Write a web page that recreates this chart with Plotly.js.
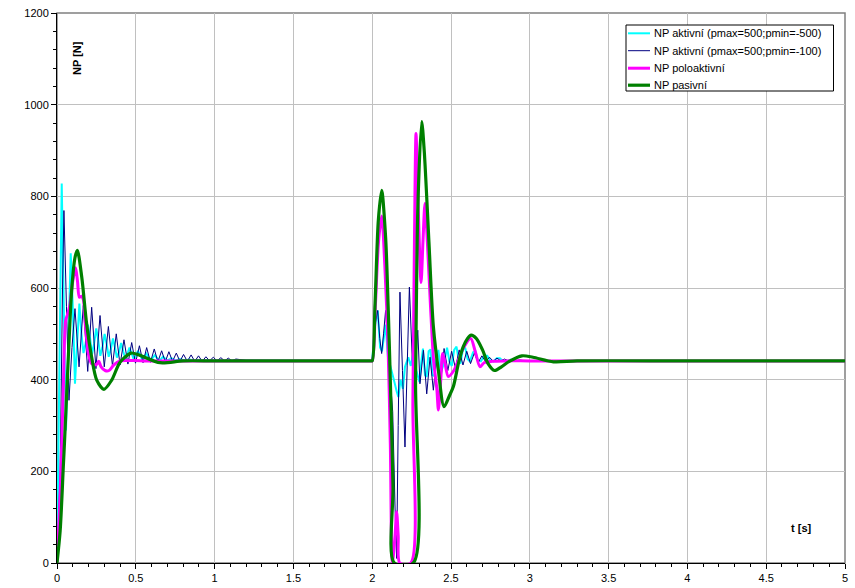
<!DOCTYPE html>
<html>
<head>
<meta charset="utf-8">
<script src="https://cdn.plot.ly/plotly-3.0.1.min.js"></script>
<style>html,body{margin:0;padding:0;background:#fff;}#chart{width:855px;height:588px;}</style>
</head>
<body>
<div id="chart"></div>
<script>
// Series names
const seriesNames = [
  "NP aktivní (pmax=500;pmin=-500)",
  "NP aktivní (pmax=500;pmin=-100)",
  "NP poloaktivní",
  "NP pasivní"
];

// NP aktivní (pmax=500;pmin=-500)  [cyan]
const tCyan = [0,0.01,0.02,0.030,0.043,0.057,0.072,0.087,0.10,0.114,0.128,0.142,0.155,0.168,0.182,0.196,0.21,0.222,0.235,0.249,0.262,0.275,0.288,0.302,0.315,0.328,0.341,0.355,0.368,0.38,0.393,0.407,0.42,0.433,0.446,0.46,0.473,0.486,0.5,0.513,0.527,0.54,0.553,0.567,0.58,0.593,0.606,0.62,0.633,0.646,0.66,0.673,0.686,0.70,0.713,0.726,0.74,0.753,0.78,0.81,0.84,0.87,0.9,1.0,2.0,
  2.018,2.035,2.05,2.062,2.075,2.085,2.10,2.12,2.141,2.155,2.166,2.18,2.195,2.208,2.229,2.245,2.26,2.28,2.30,2.312,2.322,2.335,2.345,2.358,2.37,2.382,2.395,2.41,2.42,2.435,2.455,2.475,2.49,2.505,2.52,2.535,2.55,2.56,2.575,2.59,2.605,2.62,2.64,2.655,2.67,2.69,2.71,2.73,2.75,2.77,2.79,2.81,2.83,2.86,2.88,2.91,3.0,5.0];
const vCyan = [0,250,560,828,560,289,480,676,560,391,480,566,500,458,480,520,490,455,478,512,485,452,470,500,478,450,465,490,470,448,460,480,462,446,456,470,458,445,452,463,454,444,449,457,450,443,447,453,448,442,445,450,446,442,444,447,444,442,445,442,444,442,443,442,441,
  520,551,470,462,500,520,450,420,395,375,362,400,380,428,449,430,457,420,395,440,468,410,406,462,466,410,408,450,465,415,435,470,440,430,465,472,440,435,465,470,445,440,460,462,442,440,452,452,441,440,447,447,441,441,444,441,441,441];

// NP aktivní (pmax=500;pmin=-100)  [navy]
const tNavy = [0,0.02,0.035,0.044,0.06,0.076,0.095,0.114,0.14,0.167,0.195,0.220,0.247,0.273,0.30,0.326,0.352,0.376,0.40,0.425,0.45,0.474,0.498,0.523,0.546,0.569,0.593,0.617,0.64,0.664,0.687,0.710,0.733,0.757,0.78,0.803,0.827,0.851,0.874,0.898,0.921,0.945,0.968,0.992,1.015,1.04,1.063,1.087,1.11,1.135,1.2,2.0,
  2.018,2.035,2.048,2.060,2.072,2.085,2.10,2.115,2.13,2.145,2.155,2.165,2.176,2.192,2.208,2.222,2.236,2.25,2.262,2.275,2.289,2.303,2.325,2.346,2.367,2.388,2.41,2.43,2.456,2.48,2.504,2.528,2.552,2.576,2.600,2.624,2.648,2.672,2.696,2.72,2.744,2.768,2.792,2.816,2.84,2.864,2.888,2.912,2.936,2.97,3.1,5.0];
const vNavy = [0,200,600,769,560,355,470,555,428,562,418,558,424,540,428,516,430,500,432,487,434,481,436,474,437,470,438,467,439,463,439,461,440,458,440,455,440,454,440,452,440,450,441,449,441,448,441,447,441,445,442,441,
  520,551,490,457,500,551,470,390,330,120,10,300,591,420,253,430,602,480,380,430,508,391,464,369,449,377,455,380,468,420,462,425,465,432,462,435,458,437,452,439,449,440,447,441,445,441,444,441,443,441,441,441];

// NP poloaktivní  [magenta]
const tMagenta = [0,0.02,0.04,0.055,0.065,0.08,0.10,0.118,0.13,0.142,0.155,0.167,0.18,0.20,0.22,0.25,0.265,0.28,0.305,0.33,0.36,0.40,0.45,0.55,1.0,1.5,1.99,2.0,
  2.02,2.04,2.06,2.08,2.10,2.115,2.128,2.145,2.155,2.165,2.175,2.245,2.258,2.268,2.278,2.29,2.31,2.322,2.335,2.35,2.37,2.39,2.41,2.42,2.435,2.447,2.46,2.483,2.518,2.546,2.58,2.625,2.655,2.684,2.71,2.76,2.85,3.0,4.0,5.0];
const vMagenta = [0,150,380,530,540,560,615,644,615,580,582,575,520,455,435,433,440,428,420,420,432,441,442,441,441,441,441,441,
  560,700,757,650,480,260,0,60,112,60,0,0,350,700,937,800,612,700,785,700,560,440,380,334,400,457,440,407,420,442,470,490,460,428,437,440,441,441,441,441];

// NP pasivní  [green]
const tGreen = [0,0.02,0.04,0.051,0.072,0.093,0.114,0.129,0.157,0.188,0.22,0.252,0.298,0.347,0.40,0.47,0.527,0.654,0.8,1.0,1.5,1.99,2.0,
  2.018,2.039,2.06,2.085,2.102,2.119,2.132,2.14,2.261,2.275,2.29,2.314,2.33,2.36,2.388,2.42,2.456,2.49,2.515,2.55,2.578,2.605,2.628,2.66,2.70,2.735,2.776,2.82,2.87,2.95,3.02,3.15,3.3,4.0,5.0];
const vGreen = [0,70,210,289,450,595,666,682,624,522,449,399,379,399,438,458,453,437,441,441,441,441,441,
  566,748,813,711,551,348,166,0,0,400,780,963,900,700,516,420,341,365,385,440,472,490,497,490,465,435,420,428,440,452,449,439,441,441,441];

// Axis ticks
const xTicks = [0,0.5,1,1.5,2,2.5,3,3.5,4,4.5,5];
const xTickText = ["0","0.5","1","1.5","2","2.5","3","3.5","4","4.5","5"];
const yTicks = [0,200,400,600,800,1000,1200];
const yTickText = ["0","200","400","600","800","1000","1200"];

const colors = ["#00FFFF","#000080","#FF00FF","#008000"];
const widths = [2,1,3,3.2];
const shapesLine = ['linear','linear','spline','spline'];

const xs = [tCyan,tNavy,tMagenta,tGreen];
const ys = [vCyan,vNavy,vMagenta,vGreen];
const traces = xs.map((x,i)=>({
  x:x, y:ys[i], type:'scatter', mode:'lines', name:seriesNames[i], cliponaxis:true,
  line:{color:colors[i], width:widths[i], shape:shapesLine[i], smoothing:0.8}, showlegend:false, hoverinfo:'skip'
}));

const font = "Liberation Sans, Arial, sans-serif";
const PX = v => (v-57)/788;
const PY = v => (563-v)/550;

// Manual legend
const legY = [33.3,50.7,68.2,85.2];
const shapes = [
  {type:'rect', xref:'paper', yref:'paper', x0:0, x1:1, y0:0, y1:1, line:{color:'#808080', width:1.5}, layer:'below'},
  {type:'rect', xref:'paper', yref:'paper', x0:PX(626), x1:PX(833.5), y0:PY(91), y1:PY(25), line:{color:'#000', width:1}, fillcolor:'#fff', layer:'above'}
];
const annotations = [
  {text:'<b>NP [N]</b>', xref:'paper', yref:'paper', x:PX(68.5), y:PY(39.5), textangle:-90, showarrow:false, font:{family:font, size:11, color:'#000'}},
  {text:'<b>t [s]</b>', xref:'paper', yref:'paper', x:PX(814), y:PY(536), showarrow:false, font:{family:font, size:11, color:'#000'}}
];
seriesNames.forEach((n,i)=>{
  shapes.push({type:'line', xref:'paper', yref:'paper', x0:PX(628), x1:PX(650), y0:PY(legY[i]), y1:PY(legY[i]), line:{color:colors[i], width:widths[i]}, layer:'above'});
  annotations.push({text:n, xref:'paper', yref:'paper', x:PX(651.5), y:PY(legY[i]), xanchor:'left', yanchor:'middle', showarrow:false, font:{family:font, size:11, color:'#000'}});
});

const layout = {
  width:855, height:588,
  margin:{l:57, r:10, t:13, b:25},
  paper_bgcolor:'#fff', plot_bgcolor:'#fff',
  font:{family:font, size:11, color:'#000'},
  xaxis:{range:[0,5], tickvals:xTicks, ticktext:xTickText, showgrid:true, gridcolor:'#c0c0c0', gridwidth:1,
    showline:true, linecolor:'#000', linewidth:1, ticks:'outside', ticklen:5, tickcolor:'#000', zeroline:false,
    minor:{dtick:0.1, ticks:'outside', ticklen:3, tickcolor:'#000', showgrid:false},
    tickfont:{family:font, size:11, color:'#000'}},
  yaxis:{range:[0,1200], tickvals:yTicks, ticktext:yTickText, showgrid:true, gridcolor:'#c0c0c0', gridwidth:1,
    showline:true, linecolor:'#000', linewidth:1, ticks:'outside', ticklen:5, tickcolor:'#000', zeroline:false,
    minor:{dtick:40, ticks:'outside', ticklen:3, tickcolor:'#000', showgrid:false},
    tickfont:{family:font, size:11, color:'#000'}},
  shapes:shapes, annotations:annotations, showlegend:false
};

Plotly.newPlot('chart', traces, layout, {displayModeBar:false, staticPlot:true});
</script>
</body>
</html>
